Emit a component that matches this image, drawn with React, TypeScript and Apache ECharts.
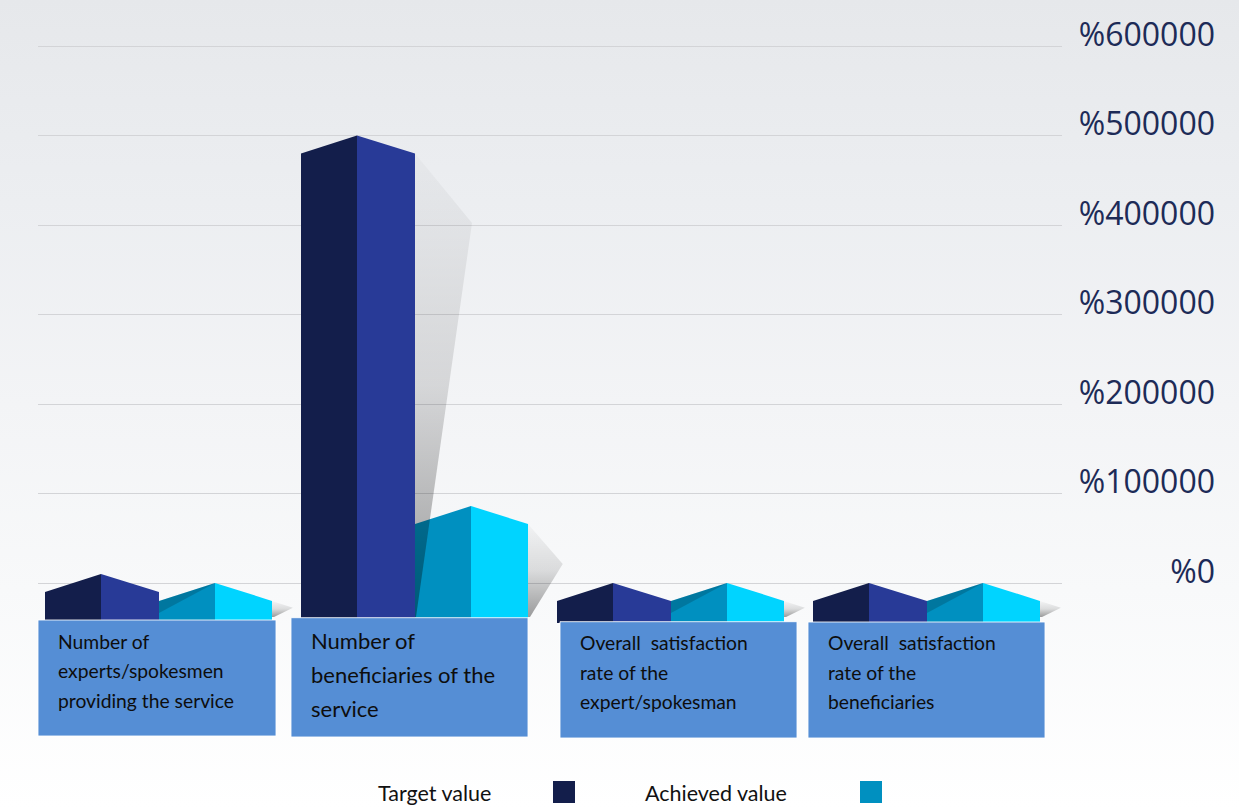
import React, { useEffect, useRef } from 'react';
import * as echarts from 'echarts';

const categories = [
  'Number of\nexperts/spokesmen\nproviding the service',
  'Number of\nbeneficiaries of the\nservice',
  'Overall  satisfaction\nrate of the\nexpert/spokesman',
  'Overall  satisfaction\nrate of the\nbeneficiaries',
];
const targetValues = [10000, 500000, 100, 100];
const achievedValues = [100, 86000, 95, 90];
const seriesNames = ['Target value', 'Achieved value'];
const yMin = 0;
const yMax = 600000;
const yInterval = 100000;

// layout (relative to category centre / zero line), not data
const BOX_LAYOUT = [
  { l: -128, r: 110, t: 37, b: 153, fs: 19.3, lh: 29.3, c1: 58.7 },
  { l: -131, r: 106, t: 34.7, b: 154, fs: 22, lh: 34, c1: 57 },
  { l: -118, r: 119, t: 38.7, b: 155, fs: 19.3, lh: 29.3, c1: 60 },
  { l: -126, r: 111, t: 39, b: 155, fs: 19.3, lh: 29.3, c1: 60 },
];
const FACE: Record<string, string[]> = {
  target: ['#131e4b', '#283a97'],
  achieved: ['#0090c0', '#00d4ff'],
};
const SPAN: Record<string, number[]> = {
  target: [-121, -65, -7],
  achieved: [-7, 49, 106],
};
const ROOF = 18;
const BASE = 40;
const SH_BASE = 34;

const shadowGrad = () =>
  new echarts.graphic.LinearGradient(0, 0, 0, 1, [
    { offset: 0, color: 'rgba(0,0,0,0.02)' },
    { offset: 0.5, color: 'rgba(0,0,0,0.12)' },
    { offset: 1, color: 'rgba(0,0,0,0.38)' },
  ]);

function barRender(kind: string) {
  return (params: any, api: any) => {
    const idx = api.value(0);
    const v = api.value(1);
    const [cx, py] = api.coord([idx, v]);
    const y0 = api.coord([idx, 0])[1];
    const s = api.size([1, 0])[0] / 256;
    const [a, m, b] = SPAN[kind].map((d) => cx + d * s);
    const side = py + ROOF;
    const bot = y0 + BASE;
    return {
      type: 'group',
      children: [
        { type: 'polygon', shape: { points: [[a, bot], [a, side], [m, py], [m, bot]] }, style: { fill: FACE[kind][0] } },
        { type: 'polygon', shape: { points: [[m, bot], [m, py], [b, side], [b, bot]] }, style: { fill: FACE[kind][1] } },
      ],
    };
  };
}

function targetShadowRender(params: any, api: any) {
  const idx = api.value(0);
  const [cx, py] = api.coord([idx, api.value(1)]);
  const pa = api.coord([idx, api.value(2)])[1];
  const y0 = api.coord([idx, 0])[1];
  const s = api.size([1, 0])[0] / 256;
  const xr = cx - 7 * s;
  const side = py + ROOF;
  const sideA = pa + ROOF;
  const bot = y0 + SH_BASE;
  const h = bot - side;
  if (sideA - side > 60) {
    return {
      type: 'polygon',
      shape: { points: [[xr, side], [xr + 57 * s, side + 0.15 * h], [xr + 1, bot], [xr, bot]] },
      style: { fill: shadowGrad() },
    };
  }
  return {
    type: 'polygon',
    shape: { points: [[xr, sideA], [xr + 56 * s, pa], [xr, sideA + 12]] },
    style: { fill: 'rgba(0,0,0,0.17)' },
  };
}

function achievedShadowRender(params: any, api: any) {
  const idx = api.value(0);
  const [cx, pa] = api.coord([idx, api.value(1)]);
  const y0 = api.coord([idx, 0])[1];
  const s = api.size([1, 0])[0] / 256;
  const xr = cx + 106 * s;
  const side = pa + ROOF;
  const bot = y0 + SH_BASE;
  const h = bot - side;
  const dx = (18 + 0.18 * h) * s;
  return {
    type: 'polygon',
    shape: { points: [[xr, side], [xr + dx, side + 0.43 * h], [xr + 2, bot], [xr, bot]] },
    style: { fill: shadowGrad() },
  };
}

function boxRender(params: any, api: any) {
  const idx = api.value(0);
  const [cx, y0] = api.coord([idx, 0]);
  const s = api.size([1, 0])[0] / 256;
  const L = BOX_LAYOUT[params.dataIndex];
  const x1 = cx + L.l * s;
  const x2 = cx + L.r * s;
  return {
    type: 'group',
    children: [
      {
        type: 'rect',
        shape: { x: x1, y: y0 + L.t, width: x2 - x1, height: L.b - L.t },
        style: { fill: '#558ed5', stroke: 'rgba(255,255,255,0.85)', lineWidth: 1 },
      },
      {
        type: 'text',
        x: x1 + 20,
        y: y0 + L.c1 - L.lh / 2,
        style: {
          text: categories[params.dataIndex],
          fill: '#0d0d0d',
          fontFamily: 'Lato',
          fontSize: L.fs,
          lineHeight: L.lh,
          verticalAlign: 'top',
          align: 'left',
        },
      },
    ],
  };
}

export default function App() {
  const ref = useRef<HTMLDivElement>(null);
  useEffect(() => {
    document.body.style.margin = '0';
    if (!ref.current) return;
    const chart = echarts.init(ref.current, null, { renderer: 'svg' });
    const idxs = categories.map((_, i) => i);
    chart.setOption({
      animation: false,
      grid: { left: 38, right: 177, top: 46, bottom: 225, containLabel: false },
      xAxis: {
        type: 'category',
        data: categories,
        boundaryGap: true,
        axisLabel: { show: false },
        axisLine: { show: false },
        axisTick: { show: false },
        splitLine: { show: false },
      },
      yAxis: {
        type: 'value',
        position: 'right',
        min: yMin,
        max: yMax,
        interval: yInterval,
        axisLine: { show: false },
        axisTick: { show: false },
        splitLine: { lineStyle: { color: '#d3d4d7', width: 1 } },
        axisLabel: {
          formatter: (v: number) => '%' + v,
          color: '#1d2b57',
          fontFamily: 'Open Sans',
          fontSize: 32,
          align: 'right',
          margin: 153,
          verticalAlign: 'bottom',
          lineHeight: 26,
        },
      },
      series: [
        {
          type: 'custom',
          name: 'achievedShadow',
          z: 1,
          clip: false,
          silent: true,
          renderItem: achievedShadowRender,
          encode: { x: 0, y: 1 },
          data: idxs.map((i) => [i, achievedValues[i]]),
        },
        {
          type: 'custom',
          name: seriesNames[0],
          z: 2,
          clip: false,
          renderItem: barRender('target'),
          encode: { x: 0, y: 1 },
          data: idxs.map((i) => [i, targetValues[i]]),
        },
        {
          type: 'custom',
          name: seriesNames[1],
          z: 3,
          clip: false,
          renderItem: barRender('achieved'),
          encode: { x: 0, y: 1 },
          data: idxs.map((i) => [i, achievedValues[i]]),
        },
        {
          type: 'custom',
          name: 'targetShadow',
          z: 4,
          clip: false,
          silent: true,
          renderItem: targetShadowRender,
          encode: { x: 0, y: 1 },
          data: idxs.map((i) => [i, targetValues[i], achievedValues[i]]),
        },
        {
          type: 'custom',
          name: 'labels',
          z: 5,
          clip: false,
          silent: true,
          renderItem: boxRender,
          encode: { x: 0, y: 1 },
          data: idxs.map((i) => [i, 0]),
        },
      ],
      graphic: [
        { type: 'text', left: 378, top: 782, style: { text: seriesNames[0], fontFamily: 'Lato', fontSize: 21.5, fill: '#111' } },
        { type: 'rect', left: 553, top: 781, shape: { width: 22, height: 22 }, style: { fill: '#131e4b' } },
        { type: 'text', left: 645, top: 782, style: { text: seriesNames[1], fontFamily: 'Lato', fontSize: 21.5, fill: '#111' } },
        { type: 'rect', left: 860, top: 781, shape: { width: 22, height: 22 }, style: { fill: '#0090c0' } },
      ],
    });
    return () => chart.dispose();
  }, []);
  return (
    <div
      ref={ref}
      style={{
        position: 'absolute',
        left: 0,
        top: 0,
        width: 1239,
        height: 808,
        background: 'linear-gradient(to bottom, #e6e8eb 0%, #eceef1 25%, #f3f4f6 50%, #f8f9fa 73%, #ffffff 100%)',
      }}
    />
  );
}
